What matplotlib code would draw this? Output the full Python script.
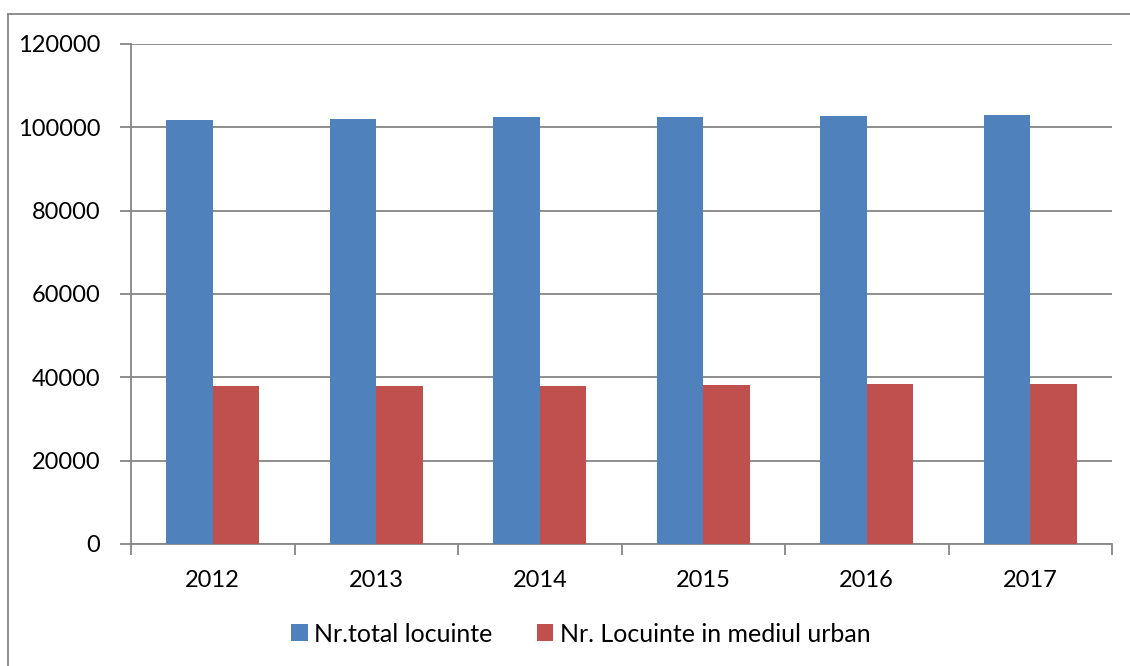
import matplotlib
matplotlib.use("Agg")
import matplotlib.pyplot as plt
import numpy as np
from matplotlib.lines import Line2D

years = ["2012", "2013", "2014", "2015", "2016", "2017"]
total_locuinte = [101800, 102100, 102500, 102600, 102800, 103000]
urban_locuinte = [37850, 37900, 38000, 38150, 38300, 38400]
series_labels = ["Nr.total locuinte", "Nr. Locuinte in mediul urban"]
y_ticks = [0, 20000, 40000, 60000, 80000, 100000, 120000]

plt.rcParams['font.family'] = ['Lato', 'DejaVu Sans']

BLUE = '#4F81BD'
RED = '#C0504D'
GRID = '#868686'
FS = 17

fig = plt.figure(figsize=(11.3, 6.66), dpi=100)
ax = fig.add_axes([131 / 1130, 1 - 544 / 666, (1112 - 131) / 1130, (544 - 44) / 666])

x = np.arange(len(years))
w = 0.285
ax.bar(x - w / 2, total_locuinte, width=w, color=BLUE, label=series_labels[0], zorder=3)
ax.bar(x + w / 2, urban_locuinte, width=w, color=RED, label=series_labels[1], zorder=3)

ax.set_xlim(-0.5, len(years) - 0.5)
ax.set_ylim(0, 120000)
ax.set_yticks(y_ticks)
ax.set_yticklabels([str(v) for v in y_ticks], fontsize=FS)
ax.yaxis.grid(True, color=GRID, linewidth=1.3, zorder=0)

# category labels in the middle, tick marks on the boundaries
ax.set_xticks(x)
ax.set_xticklabels(years, fontsize=FS)
ax.tick_params(axis='x', length=0, pad=19)
ax.set_xticks(np.arange(len(years) + 1) - 0.5, minor=True)
ax.tick_params(axis='x', which='minor', length=8, width=1.3, color=GRID, direction='out')
ax.tick_params(axis='y', length=8, width=1.3, color=GRID, direction='out', pad=14)

for side in ['top', 'right']:
    ax.spines[side].set_visible(False)
for side in ['left', 'bottom']:
    ax.spines[side].set_color(GRID)
    ax.spines[side].set_linewidth(1.3)

leg = fig.legend(loc='center', bbox_to_anchor=(0.514, 1 - 634 / 666), ncol=2,
                 frameon=False, fontsize=FS + 1, handlelength=0.65, handleheight=0.65,
                 handletextpad=0.25, columnspacing=1.8)

# outer chart border (top and left edges visible)
fig.add_artist(Line2D([8 / 1130, 8 / 1130], [0, 1 - 14 / 666], transform=fig.transFigure,
                      color=GRID, linewidth=1.3))
fig.add_artist(Line2D([8 / 1130, 1], [1 - 14 / 666, 1 - 14 / 666], transform=fig.transFigure,
                      color=GRID, linewidth=1.3))

fig.savefig("out.png", dpi=100)
